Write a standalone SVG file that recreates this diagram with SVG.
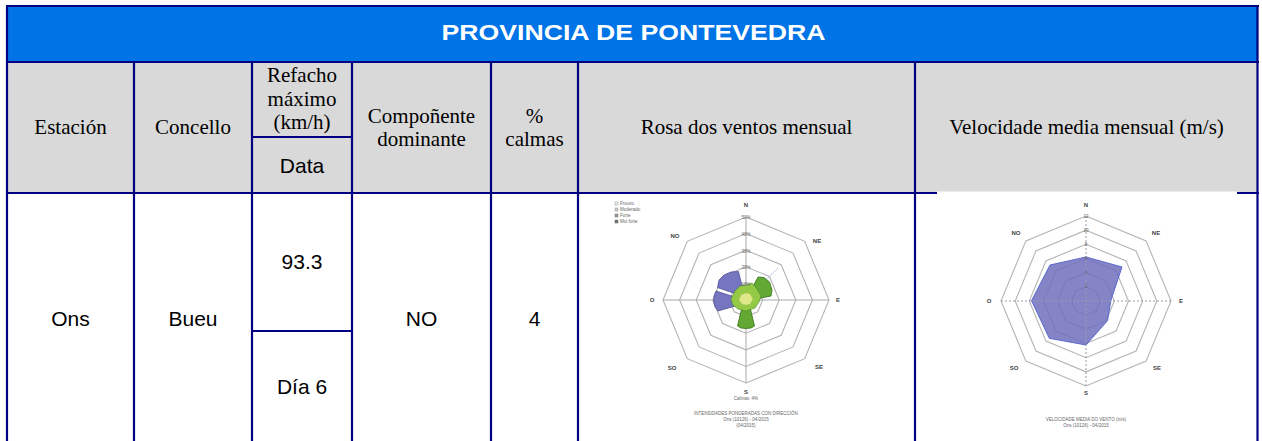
<svg xmlns="http://www.w3.org/2000/svg" xmlns:xlink="http://www.w3.org/1999/xlink" width="1262" height="441" viewBox="0 0 1262 441">
<style>
.hd{font-family:"Liberation Serif","Times New Roman",serif;font-size:21px;fill:#000;text-anchor:middle}
.dt{font-family:"Liberation Sans",Arial,sans-serif;font-size:21px;fill:#000;text-anchor:middle}
.ttl{font-family:"Liberation Sans",Arial,sans-serif;font-size:22px;font-weight:bold;fill:#fff;text-anchor:middle}
.gl{stroke:#000080;stroke-width:2.2;fill:none}
.ring{fill:none;stroke:#b4b4b4;stroke-width:1.1;vector-effect:non-scaling-stroke}
.ax{stroke:#a8a8a8;stroke-width:1}
.axd{stroke:#9a9ab0;stroke-width:1;stroke-dasharray:2 2}
.lb{font-family:"Liberation Sans",Arial,sans-serif;font-size:6px;font-weight:bold;fill:#444;text-anchor:middle}
.sm{font-family:"Liberation Sans",Arial,sans-serif;font-size:4.5px;fill:#666;text-anchor:middle}
.lg{font-family:"Liberation Sans",Arial,sans-serif;font-size:4.5px;fill:#666}
</style>
<defs>
<polygon id="oct" class="ring" points="0,-1 0.7071,-0.7071 1,0 0.7071,0.7071 0,1 -0.7071,0.7071 -1,0 -0.7071,-0.7071"/>
</defs>
<rect width="1262" height="441" fill="#fff"/>

<g id="header">
<rect x="7" y="6" width="1251" height="56" fill="#0073E6"/>
<text class="ttl" x="633.5" y="40" textLength="384" lengthAdjust="spacingAndGlyphs">PROVINCIA DE PONTEVEDRA</text>
</g>

<g id="header-row">
<rect x="7" y="62" width="1251" height="131" fill="#D9D9D9"/>
<g id="h-estacion"><text class="hd" x="70.5" y="134">Estación</text></g>
<g id="h-concello"><text class="hd" x="193" y="134">Concello</text></g>
<g id="h-refacho"><text class="hd" x="302" y="82">Refacho</text><text class="hd" x="302" y="106">máximo</text><text class="hd" x="302" y="129">(km/h)</text></g>
<g id="h-data"><text class="dt" x="302" y="173">Data</text></g>
<g id="h-componente"><text class="hd" x="421.5" y="123">Compoñente</text><text class="hd" x="421.5" y="146">dominante</text></g>
<g id="h-calmas"><text class="hd" x="534.5" y="123">%</text><text class="hd" x="534.5" y="146">calmas</text></g>
<g id="h-rosa"><text class="hd" x="746.5" y="134">Rosa dos ventos mensual</text></g>
<g id="h-velocidade"><text class="hd" x="1086.5" y="134">Velocidade media mensual (m/s)</text></g>
</g>

<g id="data-row">
<g id="d-estacion"><text class="dt" x="70.5" y="326">Ons</text></g>
<g id="d-concello"><text class="dt" x="193" y="326">Bueu</text></g>
<g id="d-refacho"><text class="dt" x="302" y="269">93.3</text></g>
<g id="d-data"><text class="dt" x="302" y="394">Día 6</text></g>
<g id="d-componente"><text class="dt" x="421.5" y="326">NO</text></g>
<g id="d-calmas"><text class="dt" x="534.5" y="326">4</text></g>
</g>

<g id="grid">
<line class="gl" x1="6" y1="6" x2="1259" y2="6"/>
<line class="gl" x1="6" y1="62" x2="1259" y2="62"/>
<line class="gl" x1="6" y1="193" x2="1259" y2="193"/>
<line class="gl" x1="252" y1="137" x2="352" y2="137"/>
<line class="gl" x1="252" y1="331" x2="352" y2="331"/>
<line class="gl" x1="7" y1="6" x2="7" y2="441"/>
<line class="gl" x1="134" y1="62" x2="134" y2="441"/>
<line class="gl" x1="252" y1="62" x2="252" y2="441"/>
<line class="gl" x1="352" y1="62" x2="352" y2="441"/>
<line class="gl" x1="491" y1="62" x2="491" y2="441"/>
<line class="gl" x1="578" y1="62" x2="578" y2="441"/>
<line class="gl" x1="915" y1="62" x2="915" y2="441"/>
<line class="gl" x1="1257.5" y1="6" x2="1257.5" y2="441"/>
<rect x="937" y="191.5" width="300" height="4" fill="#fff"/>
</g>

<g id="rosa-chart">
<g id="rosa-legend">
<rect x="615" y="202" width="3" height="3" fill="#eee" stroke="#999" stroke-width="0.5"/><text class="lg" x="620" y="205">Frouxo</text>
<rect x="615" y="208" width="3" height="3" fill="#ccc" stroke="#999" stroke-width="0.5"/><text class="lg" x="620" y="211">Moderado</text>
<rect x="615" y="214" width="3" height="3" fill="#999" stroke="#777" stroke-width="0.5"/><text class="lg" x="620" y="217">Forte</text>
<rect x="615" y="220" width="3" height="3" fill="#777" stroke="#666" stroke-width="0.5"/><text class="lg" x="620" y="223">Moi forte</text>
</g>
<use xlink:href="#oct" transform="translate(746,300) scale(83)"/>
<use xlink:href="#oct" transform="translate(746,300) scale(66.4)"/>
<use xlink:href="#oct" transform="translate(746,300) scale(49.8)"/>
<use xlink:href="#oct" transform="translate(746,300) scale(33.2)"/>
<use xlink:href="#oct" transform="translate(746,300) scale(16.6)"/>
<line class="ax" x1="746" y1="217" x2="746" y2="383"/>
<line class="ax" x1="663" y1="300" x2="829" y2="300"/>
<line x1="746" y1="300" x2="778" y2="268" stroke="#a8c0e8" stroke-width="0.8"/>
<polygon points="745,297 717.5,287.5 719,280 724,275 731,272 738.5,271.5 742,286" fill="#7676c0" stroke="#50509a" stroke-width="0.8"/>
<polygon points="744,300 716,291 714,296 713.5,301 715,307 718,311 742,304" fill="#7676c0" stroke="#50509a" stroke-width="0.8"/>
<polygon points="748,296 758,277 764,277.5 769.5,282 772,290 771,296 751,300" fill="#62a832" stroke="#356e18" stroke-width="0.8"/>
<polygon points="743,303 737.5,326 741,328 746,328.5 751,328 754.5,326 749,303" fill="#62a832" stroke="#356e18" stroke-width="0.8"/>
<polygon points="746,285 752,283 757,289 761,296 759,302 755,308 746,311 738,309 733,305 731,299 735,291 740,286" fill="#93c945" stroke="#4a8a20" stroke-width="0.6"/>
<polygon points="746,293 750,294 753,299 750,304 746,305 742,304 739,300 741,295" fill="#dfe98a" stroke="#b8c860" stroke-width="0.5"/>
<text class="sm" x="746" y="219">50%</text>
<text class="sm" x="746" y="236">40%</text>
<text class="sm" x="746" y="253">30%</text>
<text class="sm" x="746" y="269">20%</text>
<text class="sm" x="746" y="286">10%</text>
<text class="lb" x="746" y="207">N</text>
<text class="lb" x="817" y="243">NE</text>
<text class="lb" x="838" y="302">E</text>
<text class="lb" x="819" y="369">SE</text>
<text class="lb" x="746" y="394">S</text>
<text class="lb" x="672" y="370">SO</text>
<text class="lb" x="652" y="302">O</text>
<text class="lb" x="675" y="238">NO</text>
<text class="sm" x="746" y="400">Calmas: 4%</text>
<text class="sm" x="746" y="415">INTENSIDADES PONDERADAS CON DIRECCIÓN</text>
<text class="sm" x="746" y="421">Ons (10126) - 04/2015</text>
<text class="sm" x="746" y="427">(04/2015)</text>
</g>

<g id="velocidade-chart">
<use xlink:href="#oct" transform="translate(1086,301) scale(85)"/>
<use xlink:href="#oct" transform="translate(1086,301) scale(70.8)"/>
<use xlink:href="#oct" transform="translate(1086,301) scale(56.7)"/>
<use xlink:href="#oct" transform="translate(1086,301) scale(42.5)"/>
<use xlink:href="#oct" transform="translate(1086,301) scale(28.3)"/>
<use xlink:href="#oct" transform="translate(1086,301) scale(14.2)"/>
<polygon points="1086,257 1122,267 1111,300 1107.5,320.7 1086,345 1049.3,338.3 1031.5,300.7 1050,265" fill="#6e6ebc" fill-opacity="0.85" stroke="#5a6ad0" stroke-width="1"/>
<line class="axd" x1="1086" y1="216" x2="1086" y2="386"/>
<line class="axd" x1="1001" y1="301" x2="1171" y2="301"/>
<text class="sm" x="1086" y="218">12</text>
<text class="sm" x="1086" y="232">10</text>
<text class="sm" x="1086" y="246">8</text>
<text class="sm" x="1086" y="260">6</text>
<text class="sm" x="1086" y="274">4</text>
<text class="sm" x="1086" y="288">2</text>
<text class="lb" x="1086" y="207">N</text>
<text class="lb" x="1156" y="235">NE</text>
<text class="lb" x="1181" y="303">E</text>
<text class="lb" x="1157" y="370">SE</text>
<text class="lb" x="1086" y="395">S</text>
<text class="lb" x="1014" y="370">SO</text>
<text class="lb" x="989" y="303">O</text>
<text class="lb" x="1016" y="235">NO</text>
<text class="sm" x="1086" y="421">VELOCIDADE MEDIA DO VENTO (m/s)</text>
<text class="sm" x="1086" y="427">Ons (10126) - 04/2015</text>
</g>
</svg>
